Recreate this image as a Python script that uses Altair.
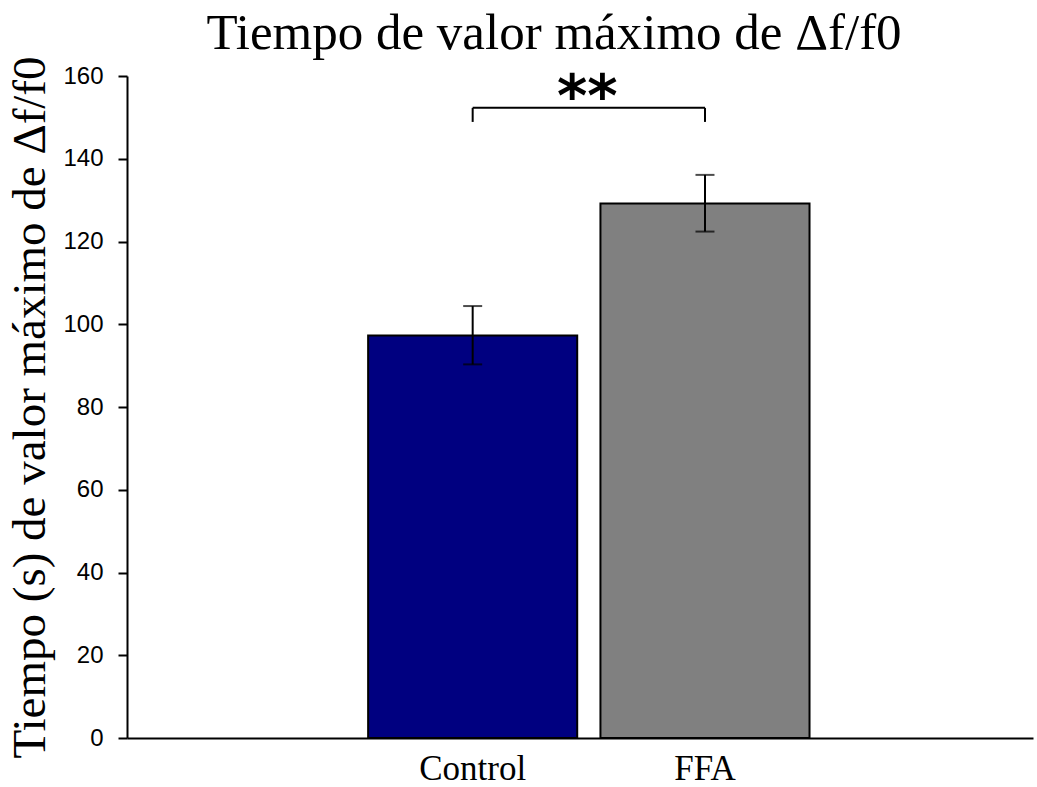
import altair as alt
import pandas as pd

# ---- data ----
groups = ["Control", "FFA"]
means = [97.3, 129.2]
err_lo = [90.3, 122.4]
err_hi = [104.4, 136.1]
bar_colors = ["#000080", "#808080"]

# significance annotation
bracket_top = 152.3
bracket_bottom = 148.9
star_label = "**"
star_level = 150.3

title_text = "Tiempo de valor máximo de Δf/f0"
y_title = "Tiempo (s) de valor máximo de Δf/f0"
y_ticks = [0, 20, 40, 60, 80, 100, 120, 140, 160]

bars_df = pd.DataFrame({"group": groups, "mean": means, "lo": err_lo, "hi": err_hi})
caps_df = pd.DataFrame({
    "group": groups + groups,
    "v": err_lo + err_hi,
})
bracket_df = pd.DataFrame({
    "x": [groups[0], groups[0], groups[1]],
    "x2": [groups[1], groups[0], groups[1]],
    "y": [bracket_top, bracket_bottom, bracket_bottom],
    "y2": [bracket_top, bracket_top, bracket_top],
})
star_df = pd.DataFrame({"group": [groups[0]], "v": [star_level], "t": [star_label]})

xscale = alt.Scale(domain=groups, paddingInner=0.1, paddingOuter=1, align=0.519)
yscale = alt.Scale(domain=[0, 160], nice=False, zero=True)

bars = alt.Chart(bars_df).mark_bar(stroke="black", strokeWidth=2).encode(
    x=alt.X("group:N", scale=xscale, sort=groups, title=None),
    y=alt.Y("mean:Q", scale=yscale, title=y_title, axis=alt.Axis(values=y_ticks)),
    color=alt.Color("group:N", scale=alt.Scale(domain=groups, range=bar_colors), legend=None),
)

err = alt.Chart(bars_df).mark_rule(color="black", strokeWidth=2).encode(
    x=alt.X("group:N", sort=groups, title=None),
    y=alt.Y("lo:Q", title=y_title),
    y2="hi:Q",
)

caps = alt.Chart(caps_df).mark_tick(color="black", thickness=2, size=19, orient="horizontal").encode(
    x=alt.X("group:N", sort=groups, title=None),
    y=alt.Y("v:Q", title=y_title),
)

bracket = alt.Chart(bracket_df).mark_rule(color="black", strokeWidth=2).encode(
    x=alt.X("x:N", sort=groups, title=None),
    x2="x2:N",
    y=alt.Y("y:Q", title=y_title),
    y2="y2:Q",
)

stars = alt.Chart(star_df).mark_text(
    font="DejaVu Sans", fontSize=58, fontWeight="bold", color="black",
    baseline="alphabetic", align="center", dx=10,
).encode(
    x=alt.X("group:N", sort=groups, bandPosition=1, title=None),
    y=alt.Y("v:Q", title=y_title),
    text="t:N",
)

chart = alt.layer(bars, err, caps, bracket, stars).properties(
    width=906, height=662,
    background="white",
    title=alt.TitleParams(
        text=title_text, font="Liberation Serif", fontSize=51, fontWeight="normal",
        color="black", anchor="middle", dx=-26, offset=-4,
    ),
    autosize=alt.AutoSizeParams(type="none"),
    padding={"left": 127, "top": 76, "right": 4, "bottom": 49},
).configure_view(
    stroke=None, strokeWidth=0
).configure_axisX(
    labelAngle=0, ticks=False, tickSize=0,
    labelFont="Liberation Serif", labelFontSize=35, labelColor="black",
    labelPadding=13, domainColor="black", domainWidth=2, grid=False,
).configure_axisY(
    grid=False,
    labelFont="Liberation Sans", labelFontSize=24, labelColor="black",
    labelPadding=15, tickSize=9, tickWidth=2, tickColor="black",
    domainColor="black", domainWidth=2,
    titleFont="Liberation Serif", titleFontSize=47, titleFontWeight="normal",
    titleColor="black", titlePadding=8,
)

chart.save("out.html", embed_options={"renderer": "svg", "actions": False})
